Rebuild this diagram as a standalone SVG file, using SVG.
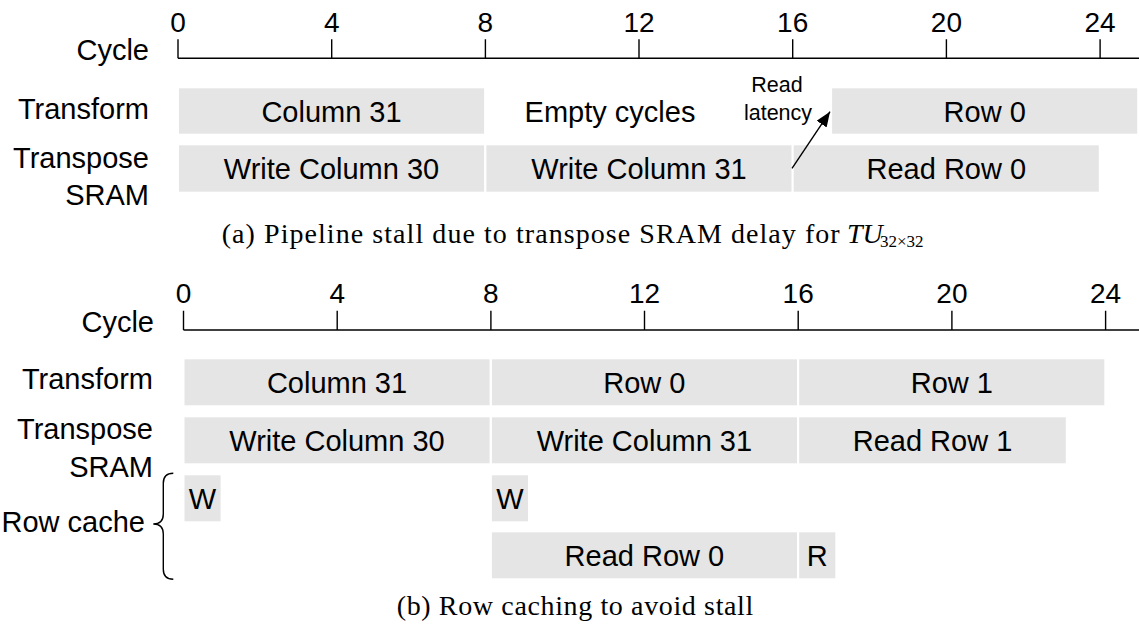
<svg xmlns="http://www.w3.org/2000/svg" width="1139" height="628" viewBox="0 0 1139 628">
<defs>
<style>
.bx{fill:#e5e5e5;stroke:none}
.tc{font-family:"Liberation Sans",Arial,sans-serif;font-size:29px;fill:#000;text-anchor:middle}
.lb{font-family:"Liberation Sans",Arial,sans-serif;font-size:29px;fill:#000;text-anchor:end}
.num{font-family:"Liberation Sans",Arial,sans-serif;font-size:28px;fill:#000;text-anchor:middle}
.sm{font-family:"Liberation Sans",Arial,sans-serif;font-size:21.5px;fill:#000;text-anchor:middle}
.cap{font-family:"Liberation Serif","Times New Roman",serif;font-size:28px;fill:#000}
.sub{font-family:"Liberation Serif","Times New Roman",serif;font-size:17px;fill:#000}
.ax{stroke:#000;stroke-width:1.4;fill:none}
.con{stroke:#000;stroke-width:1.4;fill:none}
</style>
<marker id="ah" markerUnits="userSpaceOnUse" markerWidth="16" markerHeight="12" refX="15" refY="6" orient="auto">
<path d="M0,0 L15,6 L0,12 z" fill="#000"/>
</marker>
</defs>
<rect width="1139" height="628" fill="#fff"/>

<!-- (a) axis -->
<g id="axis-a">
<line class="ax" x1="178" y1="58.3" x2="1139" y2="58.3"/>
<path class="ax" d="M178,39.3V58.3M331.7,39.3V58.3M485.4,39.3V58.3M639,39.3V58.3M792.7,39.3V58.3M946.4,39.3V58.3M1100.1,39.3V58.3"/>
<text class="num" x="178" y="31.7">0</text>
<text class="num" x="331.7" y="31.7">4</text>
<text class="num" x="485.4" y="31.7">8</text>
<text class="num" x="639" y="31.7">12</text>
<text class="num" x="792.7" y="31.7">16</text>
<text class="num" x="946.4" y="31.7">20</text>
<text class="num" x="1100.1" y="31.7">24</text>
<text class="lb" x="149" y="60">Cycle</text>
</g>

<!-- (a) row labels -->
<g id="label-a-transform"><text class="lb" x="149" y="118.5">Transform</text></g>
<g id="label-a-sram"><text class="lb" x="149" y="167.5">Transpose</text><text class="lb" x="149" y="204.5">SRAM</text></g>

<!-- (a) nodes -->
<g id="a-col31"><rect class="bx" x="179" y="88.3" width="305.1" height="45.4"/><text class="tc" x="331.5" y="121.5">Column 31</text></g>
<g id="a-empty"><text class="tc" x="610" y="121.5">Empty cycles</text></g>
<g id="a-readlat"><text class="sm" x="777" y="92.3">Read</text><text class="sm" x="778" y="120">latency</text></g>
<g id="a-row0"><rect class="bx" x="832.1" y="88.3" width="305.1" height="45.4"/><text class="tc" x="984.7" y="121.5">Row 0</text></g>
<g id="a-wcol30"><rect class="bx" x="179" y="145.3" width="305.1" height="46.4"/><text class="tc" x="331.5" y="178.5">Write Column 30</text></g>
<g id="a-wcol31"><rect class="bx" x="486.4" y="145.3" width="305.1" height="46.4"/><text class="tc" x="639" y="178.5">Write Column 31</text></g>
<g id="a-rrow0"><rect class="bx" x="793.7" y="145.3" width="305.1" height="46.4"/><text class="tc" x="946.3" y="178.5">Read Row 0</text></g>

<!-- connectors -->
<g id="connectors">
<line class="con" x1="792" y1="168.3" x2="830" y2="111.7" marker-end="url(#ah)"/>
</g>

<!-- caption (a) -->
<g id="caption-a">
<text class="cap" x="221.7" y="243" textLength="618" lengthAdjust="spacing">(a) Pipeline stall due to transpose SRAM delay for</text>
<text class="cap" x="847" y="243" font-style="italic">TU</text>
<text class="sub" x="880" y="247">32×32</text>
</g>

<!-- (b) axis -->
<g id="axis-b">
<line class="ax" x1="183.5" y1="330" x2="1139" y2="330"/>
<path class="ax" d="M183.5,310.7V330M337.2,310.7V330M490.9,310.7V330M644.5,310.7V330M798.2,310.7V330M951.9,310.7V330M1105.6,310.7V330"/>
<text class="num" x="183.5" y="303.3">0</text>
<text class="num" x="337.2" y="303.3">4</text>
<text class="num" x="490.9" y="303.3">8</text>
<text class="num" x="644.5" y="303.3">12</text>
<text class="num" x="798.2" y="303.3">16</text>
<text class="num" x="951.9" y="303.3">20</text>
<text class="num" x="1105.6" y="303.3">24</text>
<text class="lb" x="154" y="332">Cycle</text>
</g>

<!-- (b) row labels -->
<g id="label-b-transform"><text class="lb" x="153" y="389.3">Transform</text></g>
<g id="label-b-sram"><text class="lb" x="153" y="439.3">Transpose</text><text class="lb" x="153" y="476.7">SRAM</text></g>
<g id="label-b-rowcache">
<text class="lb" x="145" y="531.7">Row cache</text>
<path class="ax" d="M173.3,473.3Q163.3,473.3 163.3,483.3L163.3,514Q163.3,524 153.3,524Q163.3,524 163.3,534L163.3,569.3Q163.3,579.3 173.3,579.3"/>
</g>

<!-- (b) nodes -->
<g id="b-col31"><rect class="bx" x="184.5" y="359.3" width="305.1" height="46"/><text class="tc" x="337" y="392.7">Column 31</text></g>
<g id="b-row0"><rect class="bx" x="491.9" y="359.3" width="305.1" height="46"/><text class="tc" x="644.4" y="392.7">Row 0</text></g>
<g id="b-row1"><rect class="bx" x="799.2" y="359.3" width="305.1" height="46"/><text class="tc" x="951.8" y="392.7">Row 1</text></g>
<g id="b-wcol30"><rect class="bx" x="184.5" y="417.3" width="305.1" height="46"/><text class="tc" x="337" y="450.7">Write Column 30</text></g>
<g id="b-wcol31"><rect class="bx" x="491.9" y="417.3" width="305.1" height="46"/><text class="tc" x="644.4" y="450.7">Write Column 31</text></g>
<g id="b-rrow1"><rect class="bx" x="799.2" y="417.3" width="266.6" height="46"/><text class="tc" x="932.5" y="450.7">Read Row 1</text></g>
<g id="b-w1"><rect class="bx" x="184.5" y="475.3" width="36.1" height="46"/><text class="tc" x="202.5" y="508.7">W</text></g>
<g id="b-w2"><rect class="bx" x="491.9" y="475.3" width="36.1" height="46"/><text class="tc" x="509.9" y="508.7">W</text></g>
<g id="b-rrow0"><rect class="bx" x="491.9" y="532.3" width="305.1" height="46"/><text class="tc" x="644.4" y="565.7">Read Row 0</text></g>
<g id="b-r"><rect class="bx" x="799.2" y="532.3" width="36.1" height="46"/><text class="tc" x="817.2" y="565.7">R</text></g>

<!-- caption (b) -->
<g id="caption-b">
<text class="cap" x="396.7" y="615" textLength="356.6" lengthAdjust="spacing">(b) Row caching to avoid stall</text>
</g>
</svg>
